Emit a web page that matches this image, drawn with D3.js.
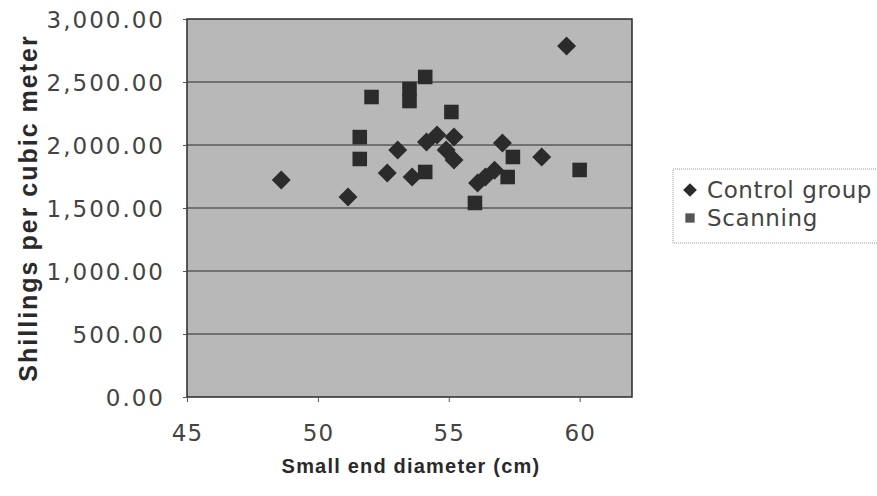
<!DOCTYPE html>
<html>
<head>
<meta charset="utf-8">
<script src="https://cdn.jsdelivr.net/npm/d3@7"></script>
<style>
  body { margin: 0; background: #fff; }
  text { font-family: "DejaVu Sans", sans-serif; }
</style>
</head>
<body>
<div id="chart"></div>
<script>
/* data */
var controlX = [48.6, 51.15, 52.65, 53.05, 53.6, 54.15, 54.55, 54.9, 55.2, 55.2, 57.05, 56.1, 56.4, 56.75, 58.55, 59.5];
var controlY = [1722, 1587, 1778, 1960, 1746, 2024, 2079, 1960, 1881, 2063, 2016, 1698, 1746, 1800, 1905, 2786];
var scanX = [52.05, 51.6, 51.6, 54.1, 53.5, 53.5, 55.1, 54.1, 57.45, 57.25, 56.0, 60.0];
var scanY = [2381, 2063, 1889, 2540, 2444, 2349, 2262, 1786, 1905, 1746, 1540, 1802];
var xTicks = [45, 50, 55, 60];
var yTicks = [0, 500, 1000, 1500, 2000, 2500, 3000];
var seriesNames = ["Control group", "Scanning"];

var W = 877, H = 496;
var plot = {left: 187, top: 19, right: 632, bottom: 397};

var svg = d3.select("#chart").append("svg")
	.attr("width", W)
	.attr("height", H);

var x = d3.scaleLinear().domain([45, 62]).range([plot.left, plot.right]);
var y = d3.scaleLinear().domain([0, 3000]).range([plot.bottom, plot.top]);

/* plot area */
svg.append("rect")
	.attr("x", plot.left).attr("y", plot.top)
	.attr("width", plot.right - plot.left)
	.attr("height", plot.bottom - plot.top)
	.style("fill", "#b8b8b8")
	.style("stroke", "#2a2a2a")
	.style("stroke-width", 1.5);

/* gridlines */
svg.append("g").selectAll("line")
	.data(yTicks.slice(1, -1))
	.enter().append("line")
	.attr("x1", plot.left).attr("x2", plot.right)
	.attr("y1", function(d) { return y(d); })
	.attr("y2", function(d) { return y(d); })
	.style("stroke", "#2a2a2a")
	.style("stroke-width", 1.2);

/* axes */
var yAxis = d3.axisLeft(y).tickValues(yTicks).tickSize(4).tickPadding(18)
	.tickFormat(d3.format(",.2f"));
var gy = svg.append("g").attr("transform", "translate(" + plot.left + ",0)").call(yAxis);

var xAxis = d3.axisBottom(x).tickValues(xTicks).tickSize(5).tickPadding(22)
	.tickFormat(d3.format("d"));
var gx = svg.append("g").attr("transform", "translate(0," + plot.bottom + ")").call(xAxis);

[gy, gx].forEach(function(g) {
	g.select(".domain").remove();
	g.selectAll("line").style("stroke", "#555");
	g.selectAll("text")
		.style("font-family", "DejaVu Sans, sans-serif")
		.style("font-size", "23px")
		.style("fill", "#444");
});
gy.selectAll("text").attr("dy", "0.36em").style("letter-spacing", "2px");
gx.selectAll("text").attr("dy", "0.72em").style("letter-spacing", "1px");

/* axis titles */
svg.append("text")
	.attr("x", 411).attr("y", 473)
	.attr("text-anchor", "middle")
	.style("font-family", "Liberation Sans, Arial, sans-serif")
	.style("font-weight", "bold")
	.style("font-size", "20px")
	.style("letter-spacing", "1.2px")
	.style("fill", "#2a2a2a")
	.text("Small end diameter (cm)");

svg.append("text")
	.attr("transform", "translate(37,208) rotate(-90)")
	.attr("text-anchor", "middle")
	.style("font-family", "Liberation Sans, Arial, sans-serif")
	.style("font-weight", "bold")
	.style("font-size", "25px")
	.style("letter-spacing", "2px")
	.style("fill", "#2a2a2a")
	.text("Shillings per cubic meter");

/* markers */
var control = controlX.map(function(v, i) { return {x: v, y: controlY[i]}; });
var scan = scanX.map(function(v, i) { return {x: v, y: scanY[i]}; });

var diamond = d3.symbol().type(d3.symbolDiamond2).size(230);
var square = d3.symbol().type(d3.symbolSquare2).size(270);

svg.append("g").selectAll("path")
	.data(control)
	.enter().append("path")
	.attr("d", diamond)
	.attr("transform", function(d) { return "translate(" + x(d.x) + "," + y(d.y) + ")"; })
	.style("fill", "#2b2b2b");

svg.append("g").selectAll("path")
	.data(scan)
	.enter().append("path")
	.attr("d", square)
	.attr("transform", function(d) { return "translate(" + x(d.x) + "," + y(d.y) + ")"; })
	.style("fill", "#2b2b2b");

/* legend */
var legend = svg.append("g").attr("transform", "translate(673,169)");
legend.append("rect")
	.attr("width", 215).attr("height", 74)
	.style("fill", "none")
	.style("stroke", "#999")
	.style("stroke-dasharray", "1,1");

var item = legend.selectAll("g.item")
	.data(seriesNames)
	.enter().append("g")
	.attr("class", "item")
	.attr("transform", function(d, i) { return "translate(17," + (21 + i * 28) + ")"; });

item.append("path")
	.attr("d", function(d, i) {
		return i === 0 ? d3.symbol().type(d3.symbolDiamond2).size(120)()
			: d3.symbol().type(d3.symbolSquare2).size(110)();
	})
	.style("fill", function(d, i) { return i === 0 ? "#2b2b2b" : "#555"; });

item.append("text")
	.attr("x", 17).attr("dy", "0.36em")
	.style("font-size", "23px")
	.style("letter-spacing", "0.6px")
	.style("fill", "#444")
	.text(function(d) { return d; });
</script>
</body>
</html>
